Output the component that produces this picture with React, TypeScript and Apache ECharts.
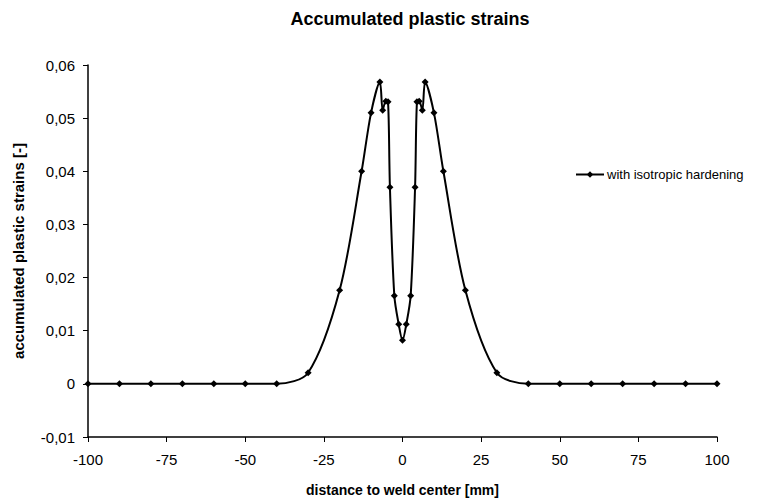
import React, { useEffect, useRef } from "react";
import * as echarts from "echarts";

// Distance to weld center [mm]
const distance = [
  -100, -90, -80, -70, -60, -50, -40, -30, -20, -13, -10, -7.2, -6.3, -5.3, -4.6, -4, -2.6, -1.2, 0,
  1.2, 2.6, 4, 4.6, 5.3, 6.3, 7.2, 10, 13, 20, 30, 40, 50, 60, 70, 80, 90, 100,
];
// Accumulated plastic strains [-]
const strain = [
  0, 0, 0, 0, 0, 0, 0, 0.0021, 0.0176, 0.040, 0.051, 0.0568, 0.0515, 0.0532, 0.0531, 0.037, 0.0166, 0.0112, 0.0082,
  0.0112, 0.0166, 0.037, 0.0531, 0.0532, 0.0515, 0.0568, 0.051, 0.040, 0.0176, 0.0021, 0, 0, 0, 0, 0, 0, 0,
];
const seriesName = "with isotropic hardening";

const FONT = "'Liberation Sans', Arial, sans-serif";

export default function App() {
  const ref = useRef<HTMLDivElement>(null);
  useEffect(() => {
    if (!ref.current) return;
    const chart = echarts.init(ref.current, undefined, { renderer: "svg" });
    const points = distance.map((d, i) => [d, strain[i]]);
    chart.setOption({
      animation: false,
      backgroundColor: "#ffffff",
      textStyle: { fontFamily: FONT, color: "#000" },
      title: {
        text: "Accumulated plastic strains",
        left: 405,
        top: 5,
        textAlign: "center",
        textStyle: { fontFamily: FONT, fontSize: 18, fontWeight: "bold", color: "#000" },
      },
      legend: {
        left: 570,
        top: 163,
        itemWidth: 28,
        itemHeight: 8,
        itemGap: 4,
        textStyle: { fontFamily: FONT, fontSize: 13, color: "#000", padding: [0, 0, 0, -2] },
        data: [seriesName],
      },
      grid: { left: 88, right: 40, top: 65, bottom: 66 },
      xAxis: {
        type: "value",
        min: -100,
        max: 100,
        interval: 25,
        name: "distance to weld center [mm]",
        nameLocation: "middle",
        nameGap: 46,
        nameTextStyle: { fontFamily: FONT, fontSize: 14, fontWeight: "bold", color: "#000" },
        axisLine: { onZero: false, lineStyle: { color: "#000", width: 1.5 } },
        axisTick: { show: true, length: 5, lineStyle: { color: "#000" } },
        axisLabel: { fontFamily: FONT, fontSize: 15, color: "#000", margin: 15 },
        splitLine: { show: false },
      },
      yAxis: {
        type: "value",
        min: -0.01,
        max: 0.06,
        interval: 0.01,
        name: "accumulated plastic strains [-]",
        nameLocation: "middle",
        nameGap: 62,
        nameTextStyle: { fontFamily: FONT, fontSize: 15, fontWeight: "bold", color: "#000" },
        axisLine: { show: true, onZero: false, lineStyle: { color: "#000", width: 1.5 } },
        axisTick: { show: true, length: 5, lineStyle: { color: "#000" } },
        axisLabel: {
          fontFamily: FONT,
          fontSize: 15,
          color: "#000",
          margin: 13,
          formatter: (v: number) => {
            const r = Math.round(v * 100) / 100;
            if (r === 0) return "0";
            return r.toFixed(2).replace(".", ",");
          },
        },
        splitLine: { show: false },
      },
      series: [
        {
          name: seriesName,
          type: "line",
          data: points,
          smooth: 0.3,
          symbol: "diamond",
          symbolSize: 7,
          itemStyle: { color: "#000" },
          lineStyle: { color: "#000", width: 2 },
        },
      ],
    });
    return () => chart.dispose();
  }, []);
  return <div ref={ref} style={{ width: 757, height: 503, position: "absolute", left: 0, top: 0 }} />;
}
